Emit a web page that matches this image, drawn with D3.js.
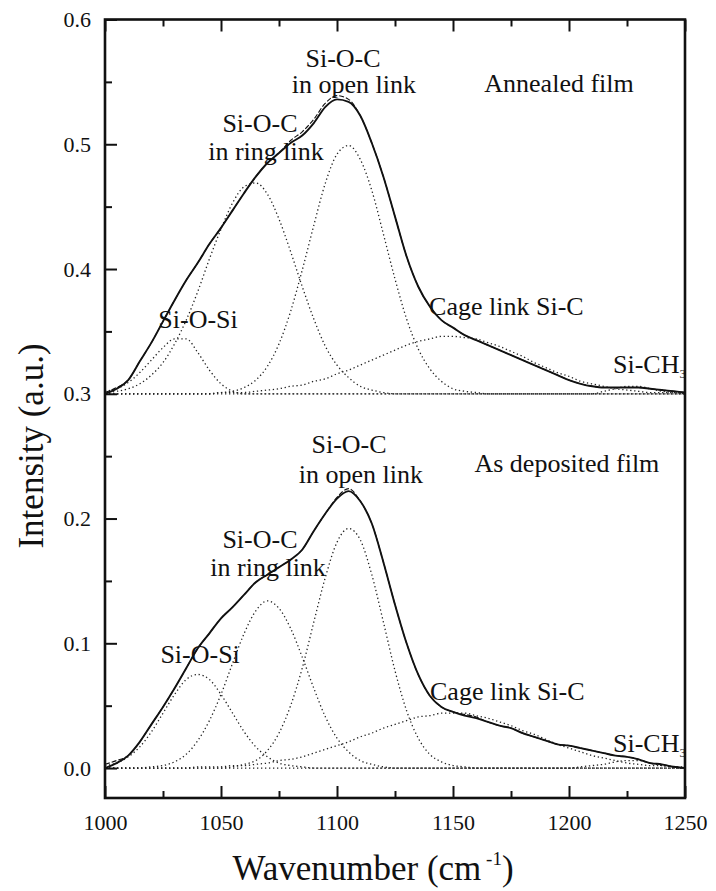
<!DOCTYPE html>
<html><head><meta charset="utf-8">
<script src="https://cdn.jsdelivr.net/npm/d3@7"></script>
<style>
body{margin:0;background:#fff}
svg{display:block}
svg text{font-family:"Liberation Serif","Tinos","Times New Roman","DejaVu Serif","Noto Serif",serif;fill:#111}
</style>
</head><body>
<svg id="chart" width="716" height="891"></svg>
<script>
// ---------------- DATA ----------------
const wavenumbers = [1000,1005,1010,1015,1020,1025,1030,1035,1040,1045,1050,1055,1060,1065,1070,1075,1080,1085,1090,1095,1100,1105,1110,1115,1120,1125,1130,1135,1140,1145,1150,1155,1160,1165,1170,1175,1180,1185,1190,1195,1200,1205,1210,1215,1220,1225,1230,1235,1240,1245,1250];

// Annealed film (upper spectrum, baseline 0.3)
const annealedMeasured = [0.300,0.304,0.311,0.326,0.341,0.358,0.375,0.391,0.405,0.420,0.433,0.447,0.461,0.474,0.485,0.493,0.501,0.507,0.517,0.530,0.536,0.534,0.523,0.501,0.474,0.442,0.410,0.386,0.370,0.359,0.353,0.347,0.343,0.339,0.335,0.331,0.327,0.323,0.319,0.315,0.311,0.308,0.306,0.305,0.305,0.305,0.305,0.304,0.303,0.302,0.301];
const annealedFit = [0.301,0.305,0.311,0.326,0.341,0.358,0.375,0.391,0.405,0.420,0.433,0.447,0.461,0.474,0.485,0.493,0.503,0.510,0.520,0.533,0.539,0.536,0.523,0.501,0.474,0.442,0.410,0.386,0.370,0.359,0.353,0.347,0.343,0.339,0.335,0.331,0.327,0.323,0.319,0.315,0.311,0.308,0.306,0.305,0.305,0.305,0.305,0.304,0.303,0.302,0.301];
const annealedSiOSi = [0.302,0.304,0.309,0.317,0.327,0.337,0.344,0.344,0.333,0.319,0.308,0.302,0.300,0.300,0.300,0.300,0.300,0.300,0.300,0.300,0.300,0.300,0.300,0.300,0.300,0.300,0.300,0.300,0.300,0.300,0.300,0.300,0.300,0.300,0.300,0.300,0.300,0.300,0.300,0.300,0.300,0.300,0.300,0.300,0.300,0.300,0.300,0.300,0.300,0.300,0.300];
const annealedRing = [0.301,0.302,0.304,0.308,0.315,0.325,0.340,0.359,0.382,0.408,0.432,0.453,0.466,0.469,0.460,0.440,0.414,0.386,0.360,0.338,0.323,0.313,0.306,0.303,0.301,0.300,0.300,0.300,0.300,0.300,0.300,0.300,0.300,0.300,0.300,0.300,0.300,0.300,0.300,0.300,0.300,0.300,0.300,0.300,0.300,0.300,0.300,0.300,0.300,0.300,0.300];
const annealedOpen = [0.300,0.300,0.300,0.300,0.300,0.300,0.300,0.300,0.300,0.300,0.301,0.302,0.305,0.311,0.322,0.340,0.366,0.399,0.435,0.469,0.492,0.499,0.488,0.463,0.428,0.392,0.360,0.336,0.320,0.310,0.304,0.302,0.301,0.300,0.300,0.300,0.300,0.300,0.300,0.300,0.300,0.300,0.300,0.300,0.300,0.300,0.300,0.300,0.300,0.300,0.300];
const annealedCage = [0.300,0.300,0.300,0.300,0.300,0.300,0.300,0.300,0.300,0.300,0.301,0.301,0.301,0.302,0.303,0.304,0.306,0.307,0.310,0.312,0.316,0.319,0.323,0.327,0.331,0.335,0.339,0.342,0.344,0.346,0.346,0.345,0.344,0.341,0.338,0.334,0.330,0.325,0.321,0.317,0.314,0.310,0.308,0.306,0.304,0.303,0.302,0.301,0.301,0.301,0.300];
const annealedSiCH = [0.300,0.300,0.300,0.300,0.300,0.300,0.300,0.300,0.300,0.300,0.300,0.300,0.300,0.300,0.300,0.300,0.300,0.300,0.300,0.300,0.300,0.300,0.300,0.300,0.300,0.300,0.300,0.300,0.300,0.300,0.300,0.300,0.300,0.300,0.300,0.300,0.300,0.300,0.300,0.300,0.300,0.300,0.300,0.302,0.304,0.306,0.306,0.304,0.302,0.301,0.300];

// As deposited film (lower spectrum, baseline 0.0)
const depositedMeasured = [0.000,0.004,0.010,0.021,0.035,0.049,0.064,0.080,0.096,0.108,0.120,0.129,0.139,0.149,0.155,0.161,0.167,0.175,0.190,0.204,0.216,0.222,0.214,0.196,0.165,0.131,0.100,0.075,0.058,0.049,0.045,0.042,0.040,0.037,0.034,0.032,0.028,0.025,0.022,0.019,0.018,0.016,0.014,0.012,0.010,0.009,0.007,0.004,0.003,0.001,0.000];
const depositedFit = [0.003,0.006,0.010,0.021,0.035,0.049,0.064,0.080,0.096,0.108,0.120,0.129,0.139,0.149,0.155,0.161,0.167,0.175,0.190,0.204,0.217,0.224,0.214,0.196,0.165,0.131,0.100,0.075,0.058,0.049,0.045,0.043,0.041,0.037,0.034,0.032,0.028,0.025,0.022,0.019,0.018,0.016,0.014,0.012,0.010,0.009,0.007,0.004,0.003,0.001,0.000];
const depositedSiOSi = [0.002,0.004,0.009,0.017,0.029,0.044,0.059,0.071,0.075,0.071,0.059,0.044,0.029,0.017,0.009,0.004,0.002,0.001,0.000,0.000,0.000,0.000,0.000,0.000,0.000,0.000,0.000,0.000,0.000,0.000,0.000,0.000,0.000,0.000,0.000,0.000,0.000,0.000,0.000,0.000,0.000,0.000,0.000,0.000,0.000,0.000,0.000,0.000,0.000,0.000,0.000];
const depositedRing = [0.000,0.000,0.000,0.000,0.001,0.002,0.005,0.011,0.022,0.038,0.059,0.084,0.108,0.126,0.134,0.128,0.112,0.089,0.064,0.041,0.024,0.013,0.006,0.003,0.001,0.000,0.000,0.000,0.000,0.000,0.000,0.000,0.000,0.000,0.000,0.000,0.000,0.000,0.000,0.000,0.000,0.000,0.000,0.000,0.000,0.000,0.000,0.000,0.000,0.000,0.000];
const depositedOpen = [0.000,0.000,0.000,0.000,0.000,0.000,0.000,0.000,0.000,0.000,0.000,0.001,0.003,0.006,0.014,0.028,0.050,0.080,0.117,0.153,0.181,0.192,0.183,0.155,0.117,0.078,0.046,0.024,0.011,0.005,0.002,0.001,0.000,0.000,0.000,0.000,0.000,0.000,0.000,0.000,0.000,0.000,0.000,0.000,0.000,0.000,0.000,0.000,0.000,0.000,0.000];
const depositedCage = [0.000,0.000,0.000,0.000,0.000,0.000,0.000,0.000,0.001,0.001,0.001,0.002,0.002,0.003,0.004,0.006,0.007,0.009,0.012,0.015,0.018,0.021,0.025,0.028,0.032,0.035,0.038,0.041,0.042,0.044,0.044,0.044,0.042,0.040,0.037,0.034,0.030,0.027,0.023,0.019,0.016,0.013,0.010,0.008,0.006,0.004,0.003,0.002,0.002,0.001,0.001];
const depositedSiCH = [0.000,0.000,0.000,0.000,0.000,0.000,0.000,0.000,0.000,0.000,0.000,0.000,0.000,0.000,0.000,0.000,0.000,0.000,0.000,0.000,0.000,0.000,0.000,0.000,0.000,0.000,0.000,0.000,0.000,0.000,0.000,0.000,0.000,0.000,0.000,0.000,0.000,0.000,0.000,0.000,0.000,0.001,0.002,0.003,0.005,0.006,0.006,0.004,0.002,0.001,0.000];

// Axes ticks
const xMajorTicks = [1000,1050,1100,1150,1200,1250];
const xMinorTicks = [1025,1075,1125,1175,1225];
const yMajorTicks = [0.0,0.1,0.2,0.3,0.4,0.5,0.6];
const yMinorTicks = [0.05,0.15,0.25,0.35,0.45,0.55];

// Annotation texts (anchored in data units: wavenumber, intensity)
const annotationTexts = ["Si-O-C","in open link","Annealed film","Si-O-C","in ring link","Si-O-Si","Cage link Si-C",
                         "Si-O-C","in open link","As deposited film","Si-O-C","in ring link","Si-O-Si","Cage link Si-C"];
const annotationX = [1102.6,1107.3,1195.7,1066.8,1069.4,1040.1,1139.7, 1105.2,1110.3,1199.1,1066.8,1070.3,1041.0,1140.1];
const annotationY = [0.562,0.541,0.542,0.510,0.487,0.353,0.363, 0.2525,0.2285,0.237,0.176,0.154,0.084,0.0545];
const annotationAnchor = ["middle","middle","middle","middle","middle","middle","start",
                          "middle","middle","middle","middle","middle","middle","start"];
const siChLabelX = [1250.4,1250.4];
const siChLabelY = [0.317,0.0128];

// ---------------- CHART ----------------
const FONT = '"Liberation Serif","Tinos","Times New Roman","DejaVu Serif","Noto Serif",serif';
const svg = d3.select("#chart");
const M = {left:105, right:685, top:19.5, bottom:798};
const x = d3.scaleLinear().domain([1000,1250]).range([M.left, M.right]);
const y = d3.scaleLinear().domain([-0.024,0.6]).range([M.bottom, M.top]);

const line = (vals) => d3.line()
  .x((d,i)=>x(wavenumbers[i]))
  .y(d=>y(d))
  .curve(d3.curveMonotoneX)(vals);

const components = [annealedSiOSi,annealedRing,annealedOpen,annealedCage,annealedSiCH,
                    depositedSiOSi,depositedRing,depositedOpen,depositedCage,depositedSiCH];
svg.append("g").selectAll("path").data(components).join("path")
  .attr("d", d=>line(d))
  .attr("fill","none").attr("stroke","#222").attr("stroke-width",1.3)
  .attr("stroke-dasharray","1.3,2.7").attr("stroke-linecap","butt");

svg.append("g").selectAll("path").data([annealedFit, depositedFit]).join("path")
  .attr("d", d=>line(d))
  .attr("fill","none").attr("stroke","#111").attr("stroke-width",1.1)
  .attr("stroke-dasharray","5,2");

svg.append("g").selectAll("path").data([annealedMeasured, depositedMeasured]).join("path")
  .attr("d", d=>line(d))
  .attr("fill","none").attr("stroke","#111").attr("stroke-width",1.9);

// annotations
svg.append("g").selectAll("text").data(annotationTexts).join("text")
  .attr("x",(d,i)=>x(annotationX[i]))
  .attr("y",(d,i)=>y(annotationY[i]))
  .attr("text-anchor",(d,i)=>annotationAnchor[i])
  .attr("font-family",FONT)
  .attr("font-size",26)
  .text(d=>d);

siChLabelX.forEach((lx,i)=>{
  const t = svg.append("text").attr("x",x(lx)).attr("y",y(siChLabelY[i]))
    .attr("text-anchor","end").attr("font-size",26).attr("font-family",FONT);
  t.append("tspan").text("Si-CH");
  t.append("tspan").attr("font-size",13).attr("dy",5).text("3");
});

// axes
function styleAxis(g){
  g.attr("font-family",FONT);
  g.select(".domain").remove();
  g.selectAll(".tick line").attr("stroke","#111").attr("stroke-width",2);
  g.selectAll(".tick text").attr("font-size",22).attr("fill","#111").attr("font-family",FONT);
}
svg.append("g").attr("transform",`translate(0,${M.bottom})`)
  .call(d3.axisBottom(x).tickValues(xMajorTicks).tickSize(-12).tickPadding(16).tickFormat(d3.format("d")))
  .call(styleAxis);
svg.append("g").attr("transform",`translate(0,${M.bottom})`)
  .call(d3.axisBottom(x).tickValues(xMinorTicks).tickSize(-7).tickFormat(""))
  .call(styleAxis);
svg.append("g").attr("transform",`translate(0,${M.top})`)
  .call(d3.axisTop(x).tickValues(xMajorTicks).tickSize(-12).tickFormat(""))
  .call(styleAxis);
svg.append("g").attr("transform",`translate(0,${M.top})`)
  .call(d3.axisTop(x).tickValues(xMinorTicks).tickSize(-7).tickFormat(""))
  .call(styleAxis);
svg.append("g").attr("transform",`translate(${M.left},0)`)
  .call(d3.axisLeft(y).tickValues(yMajorTicks).tickSize(-12).tickPadding(14).tickFormat(d3.format(".1f")))
  .call(styleAxis);
svg.append("g").attr("transform",`translate(${M.left},0)`)
  .call(d3.axisLeft(y).tickValues(yMinorTicks).tickSize(-7).tickFormat(""))
  .call(styleAxis);

// frame
svg.append("rect").attr("x",M.left).attr("y",M.top)
  .attr("width",M.right-M.left).attr("height",M.bottom-M.top)
  .attr("fill","none").attr("stroke","#111").attr("stroke-width",2.6);

// axis titles
const xt = svg.append("text").attr("x",373).attr("y",880).attr("text-anchor","middle")
  .attr("font-size",35).attr("font-family",FONT);
xt.append("tspan").text("Wavenumber (cm");
xt.append("tspan").attr("font-size",19).attr("dy",-15).text(" -1");
xt.append("tspan").attr("dy",15).text(")");

svg.append("text").attr("transform","translate(31,446) rotate(-90)")
  .attr("text-anchor","middle").attr("dy","0.35em").attr("font-size",35).attr("font-family",FONT)
  .text("Intensity (a.u.)");
</script>
</body></html>
